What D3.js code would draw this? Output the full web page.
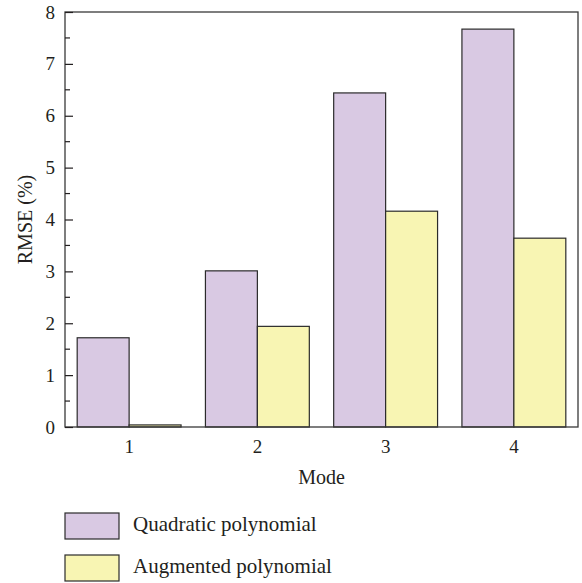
<!DOCTYPE html>
<html>
<head>
<meta charset="utf-8">
<script src="https://cdn.jsdelivr.net/npm/d3@7"></script>
<style>
  body { margin: 0; background: #fff; }
</style>
</head>
<body>
<svg id="chart" width="582" height="583"></svg>
<script>
// RMSE per mode for the two fitting approaches
const modes = ["1", "2", "3", "4"];
const seriesNames = ["Quadratic polynomial", "Augmented polynomial"];
const quadratic = [1.72, 3.01, 6.44, 7.67];
const augmented = [0.04, 1.94, 4.16, 3.64];
const yTicks = [0, 1, 2, 3, 4, 5, 6, 7, 8];
const colors = ["#d9c9e3", "#f8f5b3"];
const FONT = "'Liberation Serif', 'Times New Roman', serif";
const INK = "#231f20";

const svg = d3.select("#chart");
const margin = { left: 65, top: 12, right: 4, bottom: 156 };
const width = 582 - margin.left - margin.right;
const height = 583 - margin.top - margin.bottom;

const g = svg.append("g").attr("transform", `translate(${margin.left},${margin.top})`);

const x0 = d3.scaleBand().domain(modes).range([0, width]).paddingInner(0.19).paddingOuter(0.095);
const x1 = d3.scaleBand().domain(seriesNames).range([0, x0.bandwidth()]);
const y = d3.scaleLinear().domain([0, 8]).range([height, 0]);

const rows = modes.map((m, i) => ({ mode: m, values: [quadratic[i], augmented[i]] }));

// bars
const groups = g.selectAll("g.grp").data(rows).join("g")
  .attr("class", "grp")
  .attr("transform", d => `translate(${x0(d.mode)},0)`);
groups.selectAll("rect").data(d => d.values.map((v, k) => ({ k, v }))).join("rect")
  .attr("x", d => x1(seriesNames[d.k]))
  .attr("width", x1.bandwidth())
  .attr("y", d => y(d.v))
  .attr("height", d => height - y(d.v))
  .attr("fill", d => colors[d.k])
  .attr("stroke", "#2b2b2b")
  .attr("stroke-width", 1.2);

// frame
g.append("rect").attr("x", 0).attr("y", 0).attr("width", width).attr("height", height)
  .attr("fill", "none").attr("stroke", "#3a3a3a").attr("stroke-width", 1.3);

// y axis with inward ticks
const yAxis = d3.axisLeft(y).tickValues(yTicks).tickSize(-8).tickPadding(10).tickFormat(d3.format("d"));
const ya = g.append("g").call(yAxis).attr("font-family", null).attr("font-size", null);
ya.select(".domain").remove();
ya.selectAll(".tick line").attr("stroke", INK).attr("stroke-width", 1.2);
ya.selectAll(".tick text").style("font-family", FONT).style("font-size", "19px").attr("fill", INK);

// minor ticks
const minor = d3.range(0.5, 8, 1);
g.selectAll("line.minor").data(minor).join("line")
  .attr("class", "minor")
  .attr("x1", 0).attr("x2", 5)
  .attr("y1", d => y(d)).attr("y2", d => y(d))
  .attr("stroke", INK).attr("stroke-width", 1.2);

// x axis labels
const xAxis = d3.axisBottom(x0).tickSize(0).tickPadding(13);
const xa = g.append("g").attr("transform", `translate(0,${height})`).call(xAxis)
  .attr("font-family", null).attr("font-size", null);
xa.select(".domain").remove();
xa.selectAll(".tick text").style("font-family", FONT).style("font-size", "19px").attr("fill", INK);

// axis titles
svg.append("text")
  .attr("transform", `translate(32,${margin.top + height / 2}) rotate(-90)`)
  .attr("text-anchor", "middle")
  .style("font-family", FONT).style("font-size", "20px").attr("fill", INK)
  .text("RMSE (%)");
svg.append("text")
  .attr("x", margin.left + width / 2).attr("y", 484)
  .attr("text-anchor", "middle")
  .style("font-family", FONT).style("font-size", "20px").attr("fill", INK)
  .text("Mode");

// legend
const legend = svg.append("g").attr("transform", "translate(65,513)");
const items = legend.selectAll("g").data(seriesNames).join("g")
  .attr("transform", (d, i) => `translate(0,${i * 42})`);
items.append("rect").attr("width", 54).attr("height", 26)
  .attr("fill", (d, i) => colors[i]).attr("stroke", "#2b2b2b").attr("stroke-width", 1.2);
items.append("text").attr("x", 68).attr("y", 18)
  .style("font-family", FONT).style("font-size", "21px").attr("fill", INK)
  .text(d => d);
</script>
</body>
</html>
